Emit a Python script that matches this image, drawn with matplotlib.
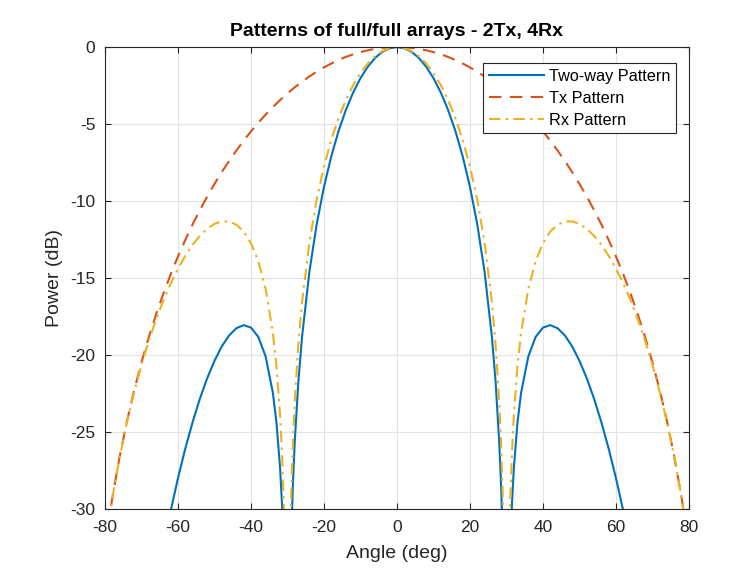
import numpy as np
import matplotlib
matplotlib.use("Agg")
import matplotlib.pyplot as plt
from matplotlib import rc

rc('font', family=['Liberation Sans', 'DejaVu Sans'])
rc('axes', unicode_minus=False)

# Tx pattern (2 elements), every 2 deg
tx_ang = [-80, -78, -76, -74, -72, -70, -68, -66, -64, -62, -60, -58, -56, -54, -52, -50,
          -48, -46, -44, -42, -40, -38, -36, -34, -32, -30, -28, -26, -24, -22, -20, -18,
          -16, -14, -12, -10, -8, -6, -4, -2, 0, 2, 4, 6, 8, 10, 12, 14, 16, 18, 20, 22,
          24, 26, 28, 30, 32, 34, 36, 38, 40, 42, 44, 46, 48, 50, 52, 54, 56, 58, 60, 62,
          64, 66, 68, 70, 72, 74, 76, 78, 80]
tx_db = [-32.45, -29.29, -26.63, -24.32, -22.29, -20.48, -18.85, -17.37, -16.01, -14.76,
         -13.60, -12.53, -11.52, -10.59, -9.71, -8.89, -8.12, -7.40, -6.72, -6.08, -5.48,
         -4.92, -4.39, -3.90, -3.44, -3.01, -2.61, -2.25, -1.91, -1.60, -1.32, -1.07, -0.84,
         -0.64, -0.47, -0.33, -0.21, -0.12, -0.05, -0.01, 0.00, -0.01, -0.05, -0.12, -0.21,
         -0.33, -0.47, -0.64, -0.84, -1.07, -1.32, -1.60, -1.91, -2.25, -2.61, -3.01, -3.44,
         -3.90, -4.39, -4.92, -5.48, -6.08, -6.72, -7.40, -8.12, -8.89, -9.71, -10.59,
         -11.52, -12.53, -13.60, -14.76, -16.01, -17.37, -18.85, -20.48, -22.29, -24.32,
         -26.63, -29.29, -32.45]

# Rx pattern (4 elements)
rx_ang = [-80, -78, -76, -74, -72, -70, -68, -66, -64, -62, -60, -58, -56, -54, -52, -50,
          -48, -46, -44, -42, -40, -38, -36, -34, -33, -32, -31.5, -31, -30.5, -29.5, -29,
          -28.5, -28, -27, -26, -24, -22, -20, -18, -16, -14, -12, -10, -8, -6, -4, -2, 0,
          2, 4, 6, 8, 10, 12, 14, 16, 18, 20, 22, 24, 26, 27, 28, 28.5, 29, 29.5, 30.5, 31,
          31.5, 32, 33, 34, 36, 38, 40, 42, 44, 46, 48, 50, 52, 54, 56, 58, 60, 62, 64, 66,
          68, 70, 72, 74, 76, 78, 80]
rx_db = [-32.46, -29.31, -26.66, -24.39, -22.40, -20.64, -19.08, -17.69, -16.46, -15.36,
         -14.39, -13.56, -12.84, -12.26, -11.80, -11.49, -11.32, -11.33, -11.54, -11.98,
         -12.74, -13.90, -15.69, -18.56, -20.76, -23.99, -26.35, -29.74, -35.63, -35.38,
         -29.24, -25.60, -22.99, -19.26, -16.56, -12.70, -9.92, -7.76, -6.03, -4.61, -3.44,
         -2.47, -1.69, -1.07, -0.60, -0.26, -0.07, 0.00, -0.07, -0.26, -0.60, -1.07, -1.69,
         -2.47, -3.44, -4.61, -6.03, -7.76, -9.92, -12.70, -16.56, -19.26, -22.99, -25.60,
         -29.24, -35.38, -35.63, -29.74, -26.35, -23.99, -20.76, -18.56, -15.69, -13.90,
         -12.74, -11.98, -11.54, -11.33, -11.32, -11.49, -11.80, -12.26, -12.84, -13.56,
         -14.39, -15.36, -16.46, -17.69, -19.08, -20.64, -22.40, -24.39, -26.66, -29.31,
         -32.46]

# two-way pattern
tw_ang = [-64, -62, -60, -58, -56, -54, -52, -50, -48, -46, -44, -42, -40, -38, -36, -34,
          -33, -32, -31.5, -31, -30.5, -29.5, -29, -28.5, -28, -27, -26, -24, -22, -20, -18,
          -16, -14, -12, -10, -8, -6, -4, -2, 0, 2, 4, 6, 8, 10, 12, 14, 16, 18, 20, 22, 24,
          26, 27, 28, 28.5, 29, 29.5, 30.5, 31, 31.5, 32, 33, 34, 36, 38, 40, 42, 44, 46, 48,
          50, 52, 54, 56, 58, 60, 62, 64]
tw_db = [-32.47, -30.12, -28.00, -26.08, -24.37, -22.84, -21.51, -20.38, -19.44, -18.73,
         -18.26, -18.06, -18.22, -18.82, -20.08, -22.46, -24.42, -27.43, -29.68, -32.96,
         -38.74, -38.29, -32.05, -28.31, -25.60, -21.68, -18.81, -14.60, -11.52, -9.08,
         -7.10, -5.45, -4.08, -2.95, -2.02, -1.28, -0.71, -0.31, -0.08, 0.00, -0.08, -0.31,
         -0.71, -1.28, -2.02, -2.95, -4.08, -5.45, -7.10, -9.08, -11.52, -14.60, -18.81,
         -21.68, -25.60, -28.31, -32.05, -38.29, -38.74, -32.96, -29.68, -27.43, -24.42,
         -22.46, -20.08, -18.82, -18.22, -18.06, -18.26, -18.73, -19.44, -20.38, -21.51,
         -22.84, -24.37, -26.08, -28.00, -30.12, -32.47]

axcol = "#262626"

fig = plt.figure(figsize=(7.30, 5.71), dpi=100)
ax = fig.add_axes([0.1438, 0.1086, 0.80, 0.809])

ax.plot(tw_ang, tw_db, "-", color="#0072BD", lw=1.5, label="Two-way Pattern")
ax.plot(tx_ang, tx_db, "--", color="#D95319", lw=1.5, dashes=(6, 4), label="Tx Pattern")
ax.plot(rx_ang, rx_db, "-.", color="#EDB120", lw=1.5, dashes=(5.5, 2.5, 1.2, 2.5), label="Rx Pattern")

ax.set_xlim(-80, 80)
ax.set_ylim(-30, 0)
ax.set_xticks(np.arange(-80, 81, 20))
ax.set_yticks(np.arange(-30, 1, 5))
ax.grid(True, color="#E3E3E3", lw=0.8)
ax.set_axisbelow(True)
ax.tick_params(direction="in", length=4, width=0.8, colors=axcol, labelsize=12.5,
               top=True, right=True)
ax.tick_params(axis="x", pad=8)
ax.tick_params(axis="y", pad=7)
for s in ax.spines.values():
    s.set_color(axcol)
    s.set_linewidth(0.8)

ax.set_title("Patterns of full/full arrays - 2Tx, 4Rx", fontsize=14, fontweight="bold",
             color="black", pad=8)
ax.set_xlabel("Angle (deg)", fontsize=14, color=axcol, labelpad=7)
ax.set_ylabel("Power (dB)", fontsize=14, color=axcol, labelpad=5)

leg = ax.legend(loc="upper right", bbox_to_anchor=(0.978, 0.965), borderaxespad=0,
                fontsize=11.7, fancybox=False, edgecolor=axcol, framealpha=1,
                handlelength=3.4, labelspacing=0.42, borderpad=0.35, handletextpad=0.3)
leg.get_frame().set_linewidth(0.8)

plt.savefig("out.png", dpi=100)
